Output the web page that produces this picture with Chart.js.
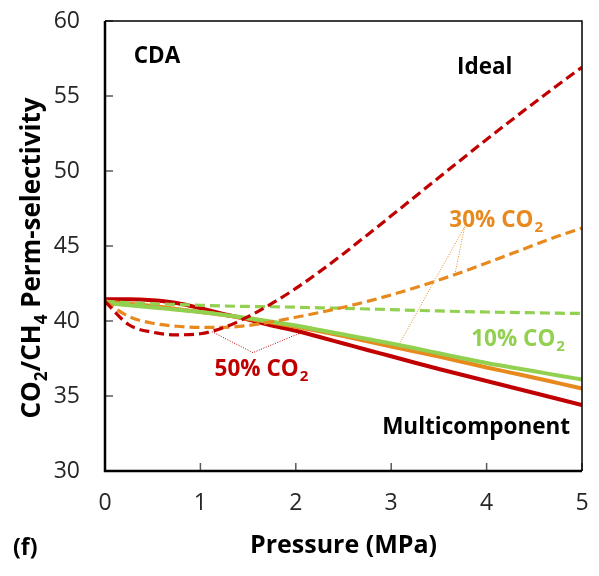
<!DOCTYPE html>
<html>
<head>
<meta charset="utf-8">
<script src="https://cdn.jsdelivr.net/npm/chart.js@4.4.0/dist/chart.umd.min.js"></script>
<style>
  html, body { margin: 0; padding: 0; background: #fff; }
  #wrap { width: 599px; height: 576px; }
</style>
</head>
<body>
<div id="wrap"><canvas id="chart" width="599" height="576"></canvas></div>
<script>
// CO2/CH4 perm-selectivity vs pressure, CDA panel (f)

const pressure = [0, 0.25, 0.5, 0.75, 1, 1.25, 1.5, 1.75, 2, 2.25, 2.5,
                  2.75, 3, 3.25, 3.5, 3.75, 4, 4.25, 4.5, 4.75, 5];

// ideal (dashed)
const ideal50 = [41.3, 39.75, 39.25, 39.08, 39.15, 39.57, 40.29, 41.17, 42.17, 43.29, 44.49,
                 45.74, 47.01, 48.29, 49.57, 50.84, 52.1, 53.34, 54.55, 55.75, 56.92];
const ideal30 = [41.3, 40.3, 39.85, 39.65, 39.58, 39.58, 39.7, 39.95, 40.25, 40.57, 40.92,
                 41.31, 41.74, 42.22, 42.73, 43.28, 43.86, 44.46, 45.07, 45.66, 46.2];
const ideal10 = [41.3, 41.22, 41.15, 41.1, 41.05, 41.0, 40.97, 40.95, 40.92, 40.88, 40.85,
                 40.8, 40.76, 40.71, 40.67, 40.63, 40.6, 40.57, 40.55, 40.52, 40.5];

// multicomponent (solid)
const multi50 = [41.45, 41.45, 41.38, 41.2, 40.85, 40.45, 40.1, 39.7, 39.35, 38.93, 38.5,
                 38.07, 37.65, 37.22, 36.8, 36.4, 36.0, 35.6, 35.2, 34.8, 34.4];
const multi30 = [41.3, 41.15, 41.0, 40.8, 40.6, 40.4, 40.15, 39.9, 39.62, 39.32, 39.0,
                 38.65, 38.3, 37.97, 37.63, 37.27, 36.9, 36.56, 36.22, 35.86, 35.5];
const multi10 = [41.2, 41.05, 40.9, 40.75, 40.6, 40.4, 40.2, 39.95, 39.7, 39.4, 39.1,
                 38.8, 38.5, 38.18, 37.85, 37.52, 37.2, 36.92, 36.65, 36.37, 36.1];

// leader lines for the labels (data units)
const leader50x = [1.12, 1.55, 2.04];
const leader50y = [39.29, 37.89, 39.18];
const leader30x = [3.07, 3.77, 3.67];
const leader30y = [38.29, 46.29, 43.18];

const xTicks = [0, 1, 2, 3, 4, 5];
const yTicks = [30, 35, 40, 45, 50, 55, 60];

const RED = '#C00000';
const ORANGE = '#E8891E';
const GREEN = '#92D050';
const FONT = '"Open Sans", Lato, sans-serif';

// text labels inside the plot: [main, subscript, x, y, color]
const labels = [
    ['CDA', '', 0.545, 57.6, '#000'],
    ['Ideal', '', 3.98, 56.9, '#000'],
    ['30% CO', '2', 4.1, 46.7, ORANGE],
    ['10% CO', '2', 4.33, 38.75, GREEN],
    ['50% CO', '2', 1.64, 36.75, RED],
    ['Multicomponent', '', 3.89, 32.9, '#000']
];

function pts(xs, ys) {
    return xs.map((x, i) => ({ x: x, y: ys[i] }));
}

function curve(label, ys, color, dashed) {
    return {
        label: label,
        data: pts(pressure, ys),
        borderColor: color,
        backgroundColor: color,
        borderWidth: dashed ? 3.2 : 4,
        borderDash: dashed ? [10, 5] : [],
        pointRadius: 0,
        fill: false,
        cubicInterpolationMode: 'monotone'
    };
}

function leader(label, xs, ys, color) {
    return {
        label: label,
        data: pts(xs, ys),
        borderColor: color,
        borderWidth: 1,
        borderDash: [1, 1.5],
        pointRadius: 0,
        fill: false,
        tension: 0
    };
}

function drawSub(ctx, main, sub, cx, cy, size) {
    ctx.font = 'bold ' + size + 'px ' + FONT;
    const w1 = ctx.measureText(main).width;
    ctx.font = 'bold ' + Math.round(size * 0.65) + 'px ' + FONT;
    const w2 = sub ? ctx.measureText(sub).width + 1 : 0;
    const left = cx - (w1 + w2) / 2;
    ctx.textAlign = 'left';
    ctx.textBaseline = 'middle';
    ctx.font = 'bold ' + size + 'px ' + FONT;
    ctx.fillText(main, left, cy);
    if (sub) {
        ctx.font = 'bold ' + Math.round(size * 0.65) + 'px ' + FONT;
        ctx.fillText(sub, left + w1 + 1, cy + size * 0.32);
    }
}

const framePlugin = {
    id: 'frame',
    afterDatasetsDraw(chart) {
        const { ctx, chartArea: a, scales } = chart;
        ctx.save();
        // inner tick marks
        ctx.strokeStyle = '#595959';
        ctx.lineWidth = 1.5;
        yTicks.forEach(v => {
            const y = scales.y.getPixelForValue(v);
            ctx.beginPath(); ctx.moveTo(a.left, y); ctx.lineTo(a.left + 8, y); ctx.stroke();
        });
        xTicks.forEach(v => {
            const x = scales.x.getPixelForValue(v);
            ctx.beginPath(); ctx.moveTo(x, a.bottom); ctx.lineTo(x, a.bottom - 8); ctx.stroke();
        });
        // box
        ctx.strokeStyle = '#000';
        ctx.lineWidth = 1.5;
        ctx.beginPath();
        ctx.moveTo(a.left, a.top); ctx.lineTo(a.right, a.top); ctx.lineTo(a.right, a.bottom);
        ctx.stroke();
        ctx.lineWidth = 2.5;
        ctx.beginPath();
        ctx.moveTo(a.left, a.top); ctx.lineTo(a.left, a.bottom); ctx.lineTo(a.right, a.bottom);
        ctx.stroke();

        // labels
        labels.forEach(l => {
            ctx.fillStyle = l[4];
            drawSub(ctx, l[0], l[1], scales.x.getPixelForValue(l[2]), scales.y.getPixelForValue(l[3]), 22.5);
        });

        // y axis title with subscripts, rotated
        ctx.translate(33, (a.top + a.bottom) / 2 + 12);
        ctx.rotate(-Math.PI / 2);
        ctx.fillStyle = '#000';
        const parts = [['CO', false], ['2', true], ['/CH', false], ['4', true], [' Perm-selectivity', false]];
        const big = 'bold 26px ' + FONT, small = 'bold 17px ' + FONT;
        let total = 0;
        parts.forEach(p => { ctx.font = p[1] ? small : big; total += ctx.measureText(p[0]).width; });
        let x = -total / 2;
        ctx.textBaseline = 'middle';
        ctx.textAlign = 'left';
        parts.forEach(p => {
            ctx.font = p[1] ? small : big;
            ctx.fillText(p[0], x, p[1] ? 9 : 0);
            x += ctx.measureText(p[0]).width;
        });
        ctx.restore();

        // panel tag
        ctx.save();
        ctx.fillStyle = '#000';
        ctx.font = 'bold 23px ' + FONT;
        ctx.textAlign = 'left';
        ctx.textBaseline = 'middle';
        ctx.fillText('(f)', 13, 548);
        ctx.restore();
    }
};

new Chart(document.getElementById('chart'), {
    type: 'line',
    data: {
        datasets: [
            curve('Ideal 50% CO2', ideal50, RED, true),
            curve('Ideal 30% CO2', ideal30, ORANGE, true),
            curve('Ideal 10% CO2', ideal10, GREEN, true),
            curve('Multicomponent 10% CO2', multi10, GREEN, false),
            curve('Multicomponent 30% CO2', multi30, ORANGE, false),
            curve('Multicomponent 50% CO2', multi50, RED, false),
            leader('50% leader', leader50x, leader50y, RED),
            leader('30% leader', leader30x, leader30y, ORANGE)
        ]
    },
    options: {
        responsive: false,
        animation: false,
        layout: { padding: { left: 0, top: 21, right: 17, bottom: 0 } },
        plugins: {
            legend: { display: false },
            tooltip: { enabled: false }
        },
        scales: {
            x: {
                type: 'linear',
                min: 0,
                max: 5,
                afterFit: s => { s.height = 105; s.paddingLeft = 0; s.paddingRight = 0; },
                afterBuildTicks: s => { s.ticks = xTicks.map(v => ({ value: v })); },
                grid: { display: false, drawTicks: false },
                border: { display: false },
                ticks: { padding: 19, color: '#262626', font: { family: FONT, size: 23 } },
                title: {
                    display: true,
                    text: 'Pressure (MPa)',
                    color: '#000',
                    padding: { top: 0, bottom: 15 },
                    font: { family: FONT, size: 25, weight: 'bold' }
                }
            },
            y: {
                min: 30,
                max: 60,
                afterFit: s => { s.width = 105; s.paddingTop = 0; s.paddingBottom = 0; },
                afterBuildTicks: s => { s.ticks = yTicks.map(v => ({ value: v })); },
                grid: { display: false, drawTicks: false },
                border: { display: false },
                ticks: { padding: 25, color: '#262626', font: { family: FONT, size: 23 } }
            }
        }
    },
    plugins: [framePlugin]
});
</script>
</body>
</html>
